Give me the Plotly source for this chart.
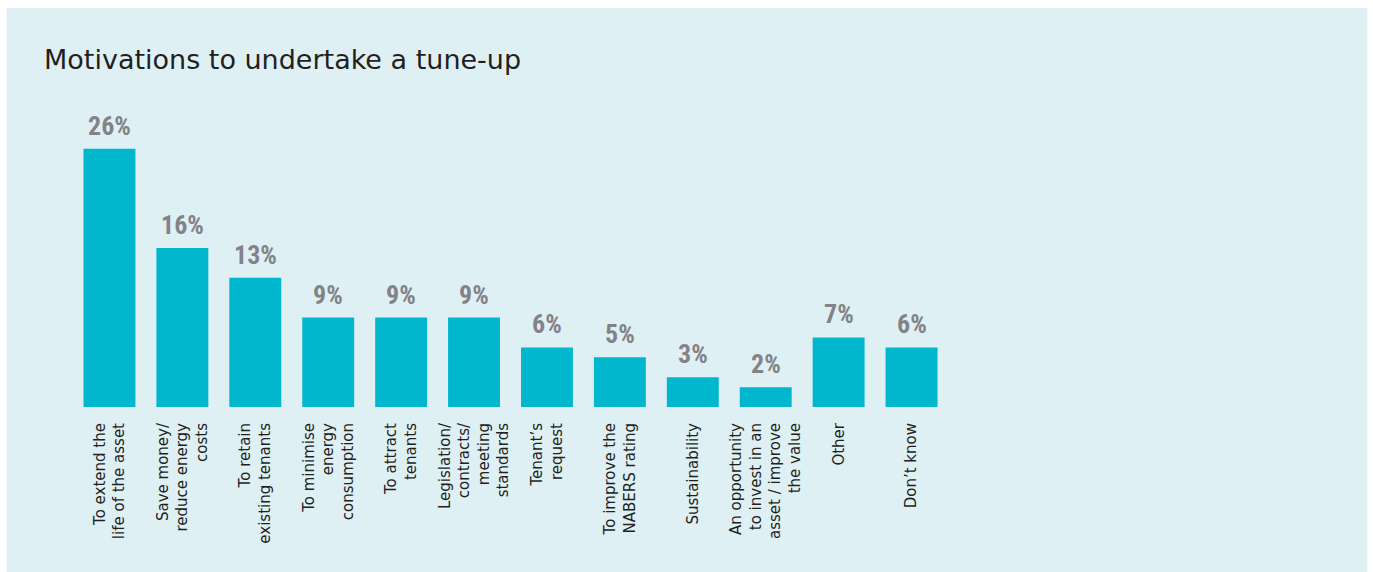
import plotly.graph_objects as go

# Survey responses: share of respondents citing each motivation
categories = [
    "To extend the<br>life of the asset",
    "Save money/<br>reduce energy<br>costs",
    "To retain<br>existing tenants",
    "To minimise<br>energy<br>consumption",
    "To attract<br>tenants",
    "Legislation/<br>contracts/<br>meeting<br>standards",
    "Tenant\u2019s<br>request",
    "To improve the<br>NABERS rating",
    "Sustainability",
    "An opportunity<br>to invest in an<br>asset / improve<br>the value",
    "Other",
    "Don\u2019t know",
]
values = [26, 16, 13, 9, 9, 9, 6, 5, 3, 2, 7, 6]
value_labels = [f"{v}%" for v in values]

W, H = 1373, 572
ML, MR, MT, MB = 72.5, 424.5, 109, 165
PW, PH = W - ML - MR, H - MT - MB

BAR = "#00B7CE"
PANEL = "#DFF0F5"
VAL = "#838387"
INK = "#231F20"

x = list(range(len(categories)))

fig = go.Figure(
    go.Bar(
        x=x,
        y=values,
        marker=dict(color=BAR, line=dict(width=0)),
        width=0.712,
        hoverinfo="skip",
    )
)

for xi, v, lab in zip(x, values, value_labels):
    fig.add_annotation(
        x=xi, y=v, text=f"<b>{lab}</b>", showarrow=False,
        yanchor="bottom", yshift=6,
        font=dict(family="Roboto Condensed, Open Sans Condensed, sans-serif",
                  size=26, color=VAL),
    )

# light panel behind the chart
fig.add_shape(
    type="rect", xref="paper", yref="paper", layer="below",
    x0=(6 - ML) / PW, x1=(1368.5 - ML) / PW,
    y0=(H - MB - H) / PH - 0.01, y1=(H - MB - 8) / PH,
    fillcolor=PANEL, line=dict(width=0),
)

fig.update_layout(
    width=W, height=H, autosize=False,
    margin=dict(l=ML, r=MR, t=MT, b=MB, pad=0),
    paper_bgcolor="white", plot_bgcolor="rgba(0,0,0,0)",
    showlegend=False,
    title=dict(
        text="Motivations to undertake a tune-up",
        xref="container", yref="container",
        x=44 / W, y=1 - 60 / H, xanchor="left", yanchor="middle",
        font=dict(family="DejaVu Sans, sans-serif", size=27, color=INK),
    ),
    xaxis=dict(
        range=[-0.5, len(categories) - 0.5],
        tickmode="array", tickvals=x, ticktext=categories,
        tickangle=-90, showgrid=False, zeroline=False, showline=False,
        ticks="", ticklabelstandoff=12,
        tickfont=dict(family="DejaVu Sans, sans-serif", size=15, color=INK),
    ),
    yaxis=dict(range=[0, 30], visible=False),
)

fig.write_html("out.html")
